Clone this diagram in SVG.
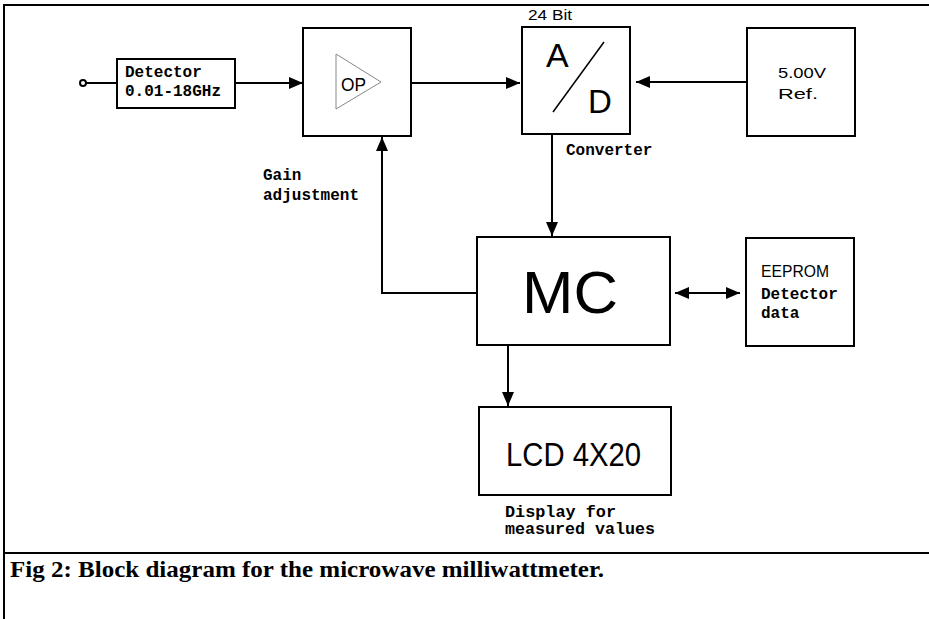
<svg xmlns="http://www.w3.org/2000/svg" width="929" height="619" viewBox="0 0 929 619">
<style>
.box{fill:#fff;stroke:#000;stroke-width:2}
.ln{fill:none;stroke:#000;stroke-width:2}
.mono{font-family:"Liberation Mono","Courier New",monospace;font-weight:bold;font-size:16px;fill:#000}
.sans{font-family:"Liberation Sans","DejaVu Sans",sans-serif;fill:#000}
.cap{font-family:"Liberation Serif","Times New Roman",serif;font-weight:bold;font-size:24px;fill:#000}
</style>
<defs>
<marker id="ah" markerUnits="userSpaceOnUse" markerWidth="14" markerHeight="12" viewBox="0 0 14 12" refX="14" refY="6" orient="auto-start-reverse">
<path d="M0,0 L14,6 L0,12 Z" fill="#000"/>
</marker>
</defs>
<rect x="0" y="0" width="929" height="619" fill="#fff"/>
<g id="frame">
<line x1="4" y1="5" x2="929" y2="5" class="ln" stroke-width="2.5"/>
<line x1="4" y1="4" x2="4" y2="619" class="ln" stroke-width="2"/>
<line x1="4" y1="553" x2="929" y2="553" class="ln" stroke-width="2.5"/>
</g>
<g id="connectors">
<circle cx="83" cy="83" r="3" fill="none" stroke="#000" stroke-width="2"/>
<line x1="86" y1="83" x2="117" y2="83" class="ln"/>
<line x1="235" y1="83" x2="303" y2="83" class="ln" stroke-width="2.5" marker-end="url(#ah)"/>
<line x1="411" y1="83" x2="520" y2="83" class="ln" marker-end="url(#ah)"/>
<line x1="747" y1="82" x2="636" y2="82" class="ln" marker-end="url(#ah)"/>
<line x1="552" y1="134" x2="552" y2="236" class="ln" marker-end="url(#ah)"/>
<polyline points="477,293 382,293 382,137" class="ln" marker-end="url(#ah)"/>
<line x1="675" y1="293" x2="740" y2="293" class="ln" marker-start="url(#ah)" marker-end="url(#ah)"/>
<line x1="508" y1="345" x2="508" y2="406" class="ln" marker-end="url(#ah)"/>
</g>
<g id="detector">
<rect x="117" y="59" width="118" height="49" class="box" stroke-width="2.5"/>
<text x="125" y="77" class="mono">Detector</text>
<text x="125" y="96" class="mono">0.01-18GHz</text>
</g>
<g id="op">
<rect x="303" y="28" width="108" height="108" class="box"/>
<path d="M336,54 L381,82 L336,109 Z" fill="none" stroke="#888" stroke-width="1"/>
<text x="341" y="91" class="sans" font-size="19" textLength="25" lengthAdjust="spacingAndGlyphs">OP</text>
</g>
<g id="gain-label">
<text x="263" y="180" class="mono">Gain</text>
<text x="263" y="200" class="mono">adjustment</text>
</g>
<g id="adc">
<text x="528" y="20" class="sans" font-size="15" textLength="44" lengthAdjust="spacingAndGlyphs">24 Bit</text>
<rect x="522" y="27" width="108" height="107" class="box"/>
<text x="546" y="67" class="sans" font-size="34">A</text>
<line x1="604" y1="42" x2="553" y2="112" stroke="#000" stroke-width="1.5"/>
<text x="588" y="113" class="sans" font-size="33">D</text>
<text x="566" y="155" class="mono">Converter</text>
</g>
<g id="ref">
<rect x="747" y="28" width="108" height="108" class="box"/>
<text x="778" y="78" class="sans" font-size="15" textLength="48" lengthAdjust="spacingAndGlyphs">5.00V</text>
<text x="778" y="99" class="sans" font-size="15" textLength="40" lengthAdjust="spacingAndGlyphs">Ref.</text>
</g>
<g id="mc">
<rect x="477" y="237" width="193" height="108" class="box"/>
<text x="522" y="313" class="sans" font-size="60" textLength="96" lengthAdjust="spacingAndGlyphs">MC</text>
</g>
<g id="eeprom">
<rect x="746" y="238" width="108" height="108" class="box"/>
<text x="761" y="277" class="sans" font-size="17" textLength="68" lengthAdjust="spacingAndGlyphs">EEPROM</text>
<text x="761" y="299" class="mono">Detector</text>
<text x="761" y="318" class="mono">data</text>
</g>
<g id="lcd">
<rect x="479" y="407" width="192" height="88" class="box" stroke-width="2.5"/>
<text x="506" y="466" class="sans" font-size="34" textLength="135" lengthAdjust="spacingAndGlyphs">LCD 4X20</text>
<text x="505" y="517" class="mono" font-size="13" textLength="111" lengthAdjust="spacingAndGlyphs">Display for</text>
<text x="505" y="534" class="mono" font-size="13" textLength="150" lengthAdjust="spacingAndGlyphs">measured values</text>
</g>
<g id="caption">
<text x="10" y="577" class="cap" textLength="594" lengthAdjust="spacingAndGlyphs">Fig 2: Block diagram for the microwave milliwattmeter.</text>
</g>
</svg>
